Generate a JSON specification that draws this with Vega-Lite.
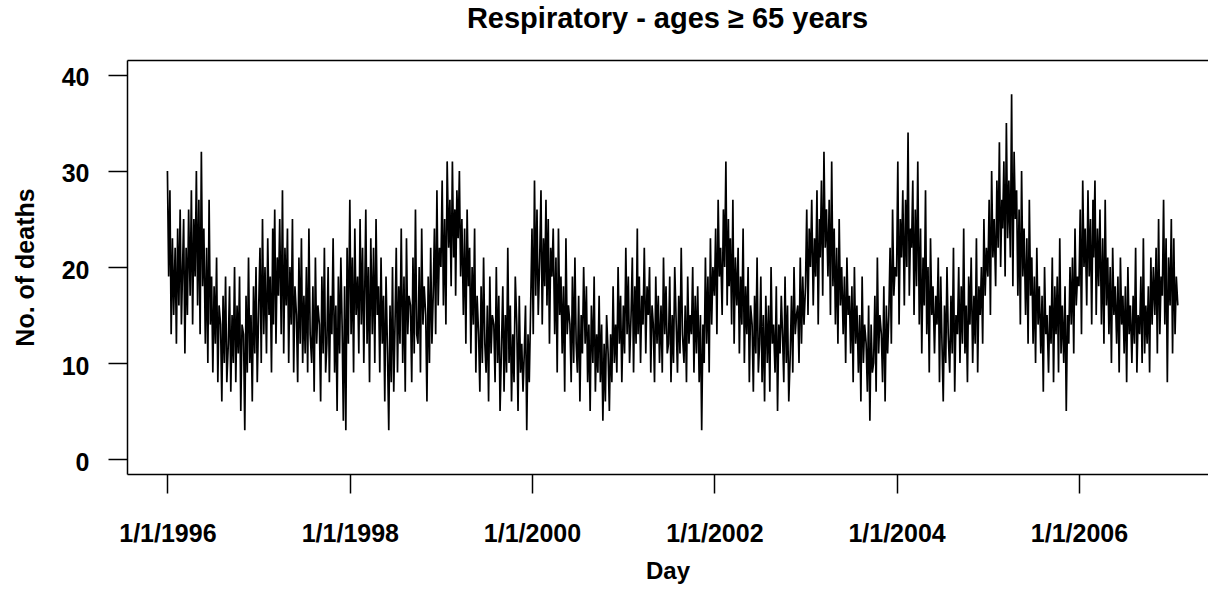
{
"$schema":"https://vega.github.io/schema/vega-lite/v6.json",
"width":1081,"height":414,
"autosize":{"type":"none"},
"padding":{"left":127,"top":60,"right":0,"bottom":115},
"background":"white",
"config":{"view":{"stroke":null},"font":"Liberation Sans"},
"title":{"text":"Respiratory - ages  ≥ 65 years","fontSize":29,"fontWeight":"bold","font":"Liberation Sans","color":"black","anchor":"middle","baseline":"alphabetic","offset":3},
"data":{"values":[
{"d":"1996-01-01","v":30},{"d":"1996-01-06","v":19},{"d":"1996-01-11","v":28},{"d":"1996-01-16","v":13},{"d":"1996-01-21","v":23},{"d":"1996-01-26","v":15},
{"d":"1996-02-01","v":22},{"d":"1996-02-06","v":12},{"d":"1996-02-11","v":24},{"d":"1996-02-16","v":16},{"d":"1996-02-21","v":26},{"d":"1996-02-26","v":14},
{"d":"1996-03-01","v":19},{"d":"1996-03-06","v":25},{"d":"1996-03-11","v":11},{"d":"1996-03-16","v":22},{"d":"1996-03-21","v":15},{"d":"1996-03-26","v":26},
{"d":"1996-04-01","v":17},{"d":"1996-04-06","v":28},{"d":"1996-04-11","v":14},{"d":"1996-04-16","v":25},{"d":"1996-04-21","v":19},{"d":"1996-04-26","v":30},
{"d":"1996-05-01","v":16},{"d":"1996-05-06","v":27},{"d":"1996-05-11","v":13},{"d":"1996-05-16","v":32},{"d":"1996-05-21","v":18},{"d":"1996-05-26","v":24},
{"d":"1996-06-01","v":12},{"d":"1996-06-06","v":22},{"d":"1996-06-11","v":10},{"d":"1996-06-16","v":27},{"d":"1996-06-21","v":14},{"d":"1996-06-26","v":19},
{"d":"1996-07-01","v":9},{"d":"1996-07-06","v":18},{"d":"1996-07-11","v":12},{"d":"1996-07-16","v":21},{"d":"1996-07-21","v":8},{"d":"1996-07-26","v":16},
{"d":"1996-08-01","v":14},{"d":"1996-08-06","v":6},{"d":"1996-08-11","v":17},{"d":"1996-08-16","v":10},{"d":"1996-08-21","v":19},{"d":"1996-08-26","v":8},
{"d":"1996-09-01","v":12},{"d":"1996-09-06","v":18},{"d":"1996-09-11","v":7},{"d":"1996-09-16","v":15},{"d":"1996-09-21","v":10},{"d":"1996-09-26","v":20},
{"d":"1996-10-01","v":8},{"d":"1996-10-06","v":16},{"d":"1996-10-11","v":11},{"d":"1996-10-16","v":19},{"d":"1996-10-21","v":5},{"d":"1996-10-26","v":14},
{"d":"1996-11-01","v":13},{"d":"1996-11-06","v":3},{"d":"1996-11-11","v":17},{"d":"1996-11-16","v":9},{"d":"1996-11-21","v":21},{"d":"1996-11-26","v":10},
{"d":"1996-12-01","v":15},{"d":"1996-12-06","v":6},{"d":"1996-12-11","v":18},{"d":"1996-12-16","v":11},{"d":"1996-12-21","v":20},{"d":"1996-12-26","v":8},
{"d":"1997-01-01","v":16},{"d":"1997-01-06","v":22},{"d":"1997-01-11","v":10},{"d":"1997-01-16","v":25},{"d":"1997-01-21","v":13},{"d":"1997-01-26","v":20},
{"d":"1997-02-01","v":11},{"d":"1997-02-06","v":23},{"d":"1997-02-11","v":15},{"d":"1997-02-16","v":19},{"d":"1997-02-21","v":9},{"d":"1997-02-26","v":24},
{"d":"1997-03-01","v":14},{"d":"1997-03-06","v":26},{"d":"1997-03-11","v":12},{"d":"1997-03-16","v":21},{"d":"1997-03-21","v":17},{"d":"1997-03-26","v":25},
{"d":"1997-04-01","v":13},{"d":"1997-04-06","v":28},{"d":"1997-04-11","v":11},{"d":"1997-04-16","v":22},{"d":"1997-04-21","v":16},{"d":"1997-04-26","v":24},
{"d":"1997-05-01","v":10},{"d":"1997-05-06","v":20},{"d":"1997-05-11","v":14},{"d":"1997-05-16","v":25},{"d":"1997-05-21","v":9},{"d":"1997-05-26","v":18},
{"d":"1997-06-01","v":15},{"d":"1997-06-06","v":8},{"d":"1997-06-11","v":21},{"d":"1997-06-16","v":12},{"d":"1997-06-21","v":23},{"d":"1997-06-26","v":10},
{"d":"1997-07-01","v":17},{"d":"1997-07-06","v":11},{"d":"1997-07-11","v":20},{"d":"1997-07-16","v":9},{"d":"1997-07-21","v":24},{"d":"1997-07-26","v":13},
{"d":"1997-08-01","v":10},{"d":"1997-08-06","v":18},{"d":"1997-08-11","v":7},{"d":"1997-08-16","v":21},{"d":"1997-08-21","v":12},{"d":"1997-08-26","v":16},
{"d":"1997-09-01","v":14},{"d":"1997-09-06","v":6},{"d":"1997-09-11","v":19},{"d":"1997-09-16","v":11},{"d":"1997-09-21","v":22},{"d":"1997-09-26","v":9},
{"d":"1997-10-01","v":12},{"d":"1997-10-06","v":20},{"d":"1997-10-11","v":8},{"d":"1997-10-16","v":17},{"d":"1997-10-21","v":13},{"d":"1997-10-26","v":23},
{"d":"1997-11-01","v":9},{"d":"1997-11-06","v":16},{"d":"1997-11-11","v":5},{"d":"1997-11-16","v":19},{"d":"1997-11-21","v":11},{"d":"1997-11-26","v":21},
{"d":"1997-12-01","v":14},{"d":"1997-12-06","v":4},{"d":"1997-12-11","v":18},{"d":"1997-12-16","v":3},{"d":"1997-12-21","v":22},{"d":"1997-12-26","v":12},
{"d":"1998-01-01","v":27},{"d":"1998-01-06","v":13},{"d":"1998-01-11","v":21},{"d":"1998-01-16","v":9},{"d":"1998-01-21","v":24},{"d":"1998-01-26","v":15},
{"d":"1998-02-01","v":19},{"d":"1998-02-06","v":11},{"d":"1998-02-11","v":25},{"d":"1998-02-16","v":14},{"d":"1998-02-21","v":22},{"d":"1998-02-26","v":10},
{"d":"1998-03-01","v":16},{"d":"1998-03-06","v":26},{"d":"1998-03-11","v":12},{"d":"1998-03-16","v":20},{"d":"1998-03-21","v":8},{"d":"1998-03-26","v":23},
{"d":"1998-04-01","v":13},{"d":"1998-04-06","v":22},{"d":"1998-04-11","v":10},{"d":"1998-04-16","v":25},{"d":"1998-04-21","v":15},{"d":"1998-04-26","v":18},
{"d":"1998-05-01","v":9},{"d":"1998-05-06","v":21},{"d":"1998-05-11","v":12},{"d":"1998-05-16","v":17},{"d":"1998-05-21","v":6},{"d":"1998-05-26","v":19},
{"d":"1998-06-01","v":11},{"d":"1998-06-06","v":3},{"d":"1998-06-11","v":16},{"d":"1998-06-16","v":8},{"d":"1998-06-21","v":20},{"d":"1998-06-26","v":7},
{"d":"1998-07-01","v":14},{"d":"1998-07-06","v":22},{"d":"1998-07-11","v":9},{"d":"1998-07-16","v":18},{"d":"1998-07-21","v":12},{"d":"1998-07-26","v":24},
{"d":"1998-08-01","v":10},{"d":"1998-08-06","v":19},{"d":"1998-08-11","v":7},{"d":"1998-08-16","v":23},{"d":"1998-08-21","v":13},{"d":"1998-08-26","v":17},
{"d":"1998-09-01","v":16},{"d":"1998-09-06","v":8},{"d":"1998-09-11","v":21},{"d":"1998-09-16","v":11},{"d":"1998-09-21","v":26},{"d":"1998-09-26","v":13},
{"d":"1998-10-01","v":12},{"d":"1998-10-06","v":20},{"d":"1998-10-11","v":9},{"d":"1998-10-16","v":24},{"d":"1998-10-21","v":14},{"d":"1998-10-26","v":18},
{"d":"1998-11-01","v":15},{"d":"1998-11-06","v":6},{"d":"1998-11-11","v":19},{"d":"1998-11-16","v":10},{"d":"1998-11-21","v":22},{"d":"1998-11-26","v":12},
{"d":"1998-12-01","v":17},{"d":"1998-12-06","v":24},{"d":"1998-12-11","v":13},{"d":"1998-12-16","v":28},{"d":"1998-12-21","v":16},{"d":"1998-12-26","v":22},
{"d":"1999-01-01","v":20},{"d":"1999-01-06","v":29},{"d":"1999-01-11","v":16},{"d":"1999-01-16","v":25},{"d":"1999-01-21","v":14},{"d":"1999-01-26","v":31},
{"d":"1999-02-01","v":22},{"d":"1999-02-06","v":27},{"d":"1999-02-11","v":18},{"d":"1999-02-16","v":31},{"d":"1999-02-21","v":21},{"d":"1999-02-26","v":26},
{"d":"1999-03-01","v":17},{"d":"1999-03-06","v":28},{"d":"1999-03-11","v":23},{"d":"1999-03-16","v":30},{"d":"1999-03-21","v":19},{"d":"1999-03-26","v":25},
{"d":"1999-04-01","v":15},{"d":"1999-04-06","v":24},{"d":"1999-04-11","v":12},{"d":"1999-04-16","v":26},{"d":"1999-04-21","v":18},{"d":"1999-04-26","v":22},
{"d":"1999-05-01","v":11},{"d":"1999-05-06","v":20},{"d":"1999-05-11","v":14},{"d":"1999-05-16","v":24},{"d":"1999-05-21","v":9},{"d":"1999-05-26","v":17},
{"d":"1999-06-01","v":13},{"d":"1999-06-06","v":7},{"d":"1999-06-11","v":18},{"d":"1999-06-16","v":10},{"d":"1999-06-21","v":21},{"d":"1999-06-26","v":12},
{"d":"1999-07-01","v":9},{"d":"1999-07-06","v":16},{"d":"1999-07-11","v":6},{"d":"1999-07-16","v":19},{"d":"1999-07-21","v":11},{"d":"1999-07-26","v":15},
{"d":"1999-08-01","v":14},{"d":"1999-08-06","v":8},{"d":"1999-08-11","v":20},{"d":"1999-08-16","v":10},{"d":"1999-08-21","v":17},{"d":"1999-08-26","v":5},
{"d":"1999-09-01","v":12},{"d":"1999-09-06","v":18},{"d":"1999-09-11","v":7},{"d":"1999-09-16","v":15},{"d":"1999-09-21","v":9},{"d":"1999-09-26","v":22},
{"d":"1999-10-01","v":10},{"d":"1999-10-06","v":16},{"d":"1999-10-11","v":6},{"d":"1999-10-16","v":13},{"d":"1999-10-21","v":8},{"d":"1999-10-26","v":19},
{"d":"1999-11-01","v":14},{"d":"1999-11-06","v":5},{"d":"1999-11-11","v":17},{"d":"1999-11-16","v":9},{"d":"1999-11-21","v":12},{"d":"1999-11-26","v":7},
{"d":"1999-12-01","v":11},{"d":"1999-12-06","v":16},{"d":"1999-12-11","v":3},{"d":"1999-12-16","v":13},{"d":"1999-12-21","v":8},{"d":"1999-12-26","v":15},
{"d":"2000-01-01","v":24},{"d":"2000-01-06","v":13},{"d":"2000-01-11","v":29},{"d":"2000-01-16","v":17},{"d":"2000-01-21","v":26},{"d":"2000-01-26","v":15},
{"d":"2000-02-01","v":21},{"d":"2000-02-06","v":28},{"d":"2000-02-11","v":14},{"d":"2000-02-16","v":23},{"d":"2000-02-21","v":18},{"d":"2000-02-26","v":27},
{"d":"2000-03-01","v":16},{"d":"2000-03-06","v":25},{"d":"2000-03-11","v":12},{"d":"2000-03-16","v":22},{"d":"2000-03-21","v":19},{"d":"2000-03-26","v":24},
{"d":"2000-04-01","v":13},{"d":"2000-04-06","v":21},{"d":"2000-04-11","v":9},{"d":"2000-04-16","v":24},{"d":"2000-04-21","v":15},{"d":"2000-04-26","v":19},
{"d":"2000-05-01","v":11},{"d":"2000-05-06","v":18},{"d":"2000-05-11","v":7},{"d":"2000-05-16","v":23},{"d":"2000-05-21","v":13},{"d":"2000-05-26","v":16},
{"d":"2000-06-01","v":14},{"d":"2000-06-06","v":8},{"d":"2000-06-11","v":19},{"d":"2000-06-16","v":10},{"d":"2000-06-21","v":21},{"d":"2000-06-26","v":12},
{"d":"2000-07-01","v":9},{"d":"2000-07-06","v":17},{"d":"2000-07-11","v":6},{"d":"2000-07-16","v":15},{"d":"2000-07-21","v":11},{"d":"2000-07-26","v":20},
{"d":"2000-08-01","v":12},{"d":"2000-08-06","v":18},{"d":"2000-08-11","v":8},{"d":"2000-08-16","v":14},{"d":"2000-08-21","v":5},{"d":"2000-08-26","v":16},
{"d":"2000-09-01","v":10},{"d":"2000-09-06","v":19},{"d":"2000-09-11","v":7},{"d":"2000-09-16","v":13},{"d":"2000-09-21","v":9},{"d":"2000-09-26","v":17},
{"d":"2000-10-01","v":8},{"d":"2000-10-06","v":14},{"d":"2000-10-11","v":4},{"d":"2000-10-16","v":12},{"d":"2000-10-21","v":6},{"d":"2000-10-26","v":15},
{"d":"2000-11-01","v":11},{"d":"2000-11-06","v":5},{"d":"2000-11-11","v":13},{"d":"2000-11-16","v":8},{"d":"2000-11-21","v":18},{"d":"2000-11-26","v":10},
{"d":"2000-12-01","v":14},{"d":"2000-12-06","v":9},{"d":"2000-12-11","v":20},{"d":"2000-12-16","v":12},{"d":"2000-12-21","v":17},{"d":"2000-12-26","v":8},
{"d":"2001-01-01","v":16},{"d":"2001-01-06","v":11},{"d":"2001-01-11","v":22},{"d":"2001-01-16","v":13},{"d":"2001-01-21","v":19},{"d":"2001-01-26","v":10},
{"d":"2001-02-01","v":15},{"d":"2001-02-06","v":21},{"d":"2001-02-11","v":9},{"d":"2001-02-16","v":18},{"d":"2001-02-21","v":12},{"d":"2001-02-26","v":24},
{"d":"2001-03-01","v":13},{"d":"2001-03-06","v":19},{"d":"2001-03-11","v":10},{"d":"2001-03-16","v":17},{"d":"2001-03-21","v":14},{"d":"2001-03-26","v":22},
{"d":"2001-04-01","v":11},{"d":"2001-04-06","v":18},{"d":"2001-04-11","v":15},{"d":"2001-04-16","v":20},{"d":"2001-04-21","v":9},{"d":"2001-04-26","v":16},
{"d":"2001-05-01","v":14},{"d":"2001-05-06","v":8},{"d":"2001-05-11","v":19},{"d":"2001-05-16","v":12},{"d":"2001-05-21","v":17},{"d":"2001-05-26","v":10},
{"d":"2001-06-01","v":16},{"d":"2001-06-06","v":9},{"d":"2001-06-11","v":21},{"d":"2001-06-16","v":13},{"d":"2001-06-21","v":18},{"d":"2001-06-26","v":11},
{"d":"2001-07-01","v":12},{"d":"2001-07-06","v":19},{"d":"2001-07-11","v":8},{"d":"2001-07-16","v":15},{"d":"2001-07-21","v":10},{"d":"2001-07-26","v":20},
{"d":"2001-08-01","v":14},{"d":"2001-08-06","v":9},{"d":"2001-08-11","v":17},{"d":"2001-08-16","v":11},{"d":"2001-08-21","v":22},{"d":"2001-08-26","v":13},
{"d":"2001-09-01","v":10},{"d":"2001-09-06","v":16},{"d":"2001-09-11","v":8},{"d":"2001-09-16","v":19},{"d":"2001-09-21","v":12},{"d":"2001-09-26","v":15},
{"d":"2001-10-01","v":13},{"d":"2001-10-06","v":20},{"d":"2001-10-11","v":9},{"d":"2001-10-16","v":17},{"d":"2001-10-21","v":11},{"d":"2001-10-26","v":18},
{"d":"2001-11-01","v":8},{"d":"2001-11-06","v":15},{"d":"2001-11-11","v":3},{"d":"2001-11-16","v":14},{"d":"2001-11-21","v":10},{"d":"2001-11-26","v":21},
{"d":"2001-12-01","v":12},{"d":"2001-12-06","v":19},{"d":"2001-12-11","v":9},{"d":"2001-12-16","v":23},{"d":"2001-12-21","v":14},{"d":"2001-12-26","v":20},
{"d":"2002-01-01","v":17},{"d":"2002-01-06","v":24},{"d":"2002-01-11","v":13},{"d":"2002-01-16","v":27},{"d":"2002-01-21","v":19},{"d":"2002-01-26","v":22},
{"d":"2002-02-01","v":15},{"d":"2002-02-06","v":26},{"d":"2002-02-11","v":20},{"d":"2002-02-16","v":31},{"d":"2002-02-21","v":16},{"d":"2002-02-26","v":25},
{"d":"2002-03-01","v":18},{"d":"2002-03-06","v":23},{"d":"2002-03-11","v":14},{"d":"2002-03-16","v":27},{"d":"2002-03-21","v":12},{"d":"2002-03-26","v":21},
{"d":"2002-04-01","v":16},{"d":"2002-04-06","v":22},{"d":"2002-04-11","v":11},{"d":"2002-04-16","v":19},{"d":"2002-04-21","v":14},{"d":"2002-04-26","v":24},
{"d":"2002-05-01","v":10},{"d":"2002-05-06","v":18},{"d":"2002-05-11","v":13},{"d":"2002-05-16","v":20},{"d":"2002-05-21","v":8},{"d":"2002-05-26","v":16},
{"d":"2002-06-01","v":14},{"d":"2002-06-06","v":7},{"d":"2002-06-11","v":17},{"d":"2002-06-16","v":11},{"d":"2002-06-21","v":21},{"d":"2002-06-26","v":9},
{"d":"2002-07-01","v":12},{"d":"2002-07-06","v":19},{"d":"2002-07-11","v":8},{"d":"2002-07-16","v":15},{"d":"2002-07-21","v":6},{"d":"2002-07-26","v":17},
{"d":"2002-08-01","v":10},{"d":"2002-08-06","v":16},{"d":"2002-08-11","v":7},{"d":"2002-08-16","v":20},{"d":"2002-08-21","v":12},{"d":"2002-08-26","v":14},
{"d":"2002-09-01","v":9},{"d":"2002-09-06","v":18},{"d":"2002-09-11","v":5},{"d":"2002-09-16","v":14},{"d":"2002-09-21","v":11},{"d":"2002-09-26","v":17},
{"d":"2002-10-01","v":13},{"d":"2002-10-06","v":8},{"d":"2002-10-11","v":19},{"d":"2002-10-16","v":10},{"d":"2002-10-21","v":16},{"d":"2002-10-26","v":6},
{"d":"2002-11-01","v":11},{"d":"2002-11-06","v":17},{"d":"2002-11-11","v":9},{"d":"2002-11-16","v":20},{"d":"2002-11-21","v":13},{"d":"2002-11-26","v":15},
{"d":"2002-12-01","v":16},{"d":"2002-12-06","v":10},{"d":"2002-12-11","v":21},{"d":"2002-12-16","v":12},{"d":"2002-12-21","v":19},{"d":"2002-12-26","v":14},
{"d":"2003-01-01","v":18},{"d":"2003-01-06","v":26},{"d":"2003-01-11","v":15},{"d":"2003-01-16","v":24},{"d":"2003-01-21","v":20},{"d":"2003-01-26","v":27},
{"d":"2003-02-01","v":16},{"d":"2003-02-06","v":23},{"d":"2003-02-11","v":19},{"d":"2003-02-16","v":28},{"d":"2003-02-21","v":14},{"d":"2003-02-26","v":25},
{"d":"2003-03-01","v":21},{"d":"2003-03-06","v":29},{"d":"2003-03-11","v":17},{"d":"2003-03-16","v":32},{"d":"2003-03-21","v":22},{"d":"2003-03-26","v":26},
{"d":"2003-04-01","v":19},{"d":"2003-04-06","v":27},{"d":"2003-04-11","v":15},{"d":"2003-04-16","v":31},{"d":"2003-04-21","v":18},{"d":"2003-04-26","v":24},
{"d":"2003-05-01","v":14},{"d":"2003-05-06","v":22},{"d":"2003-05-11","v":12},{"d":"2003-05-16","v":25},{"d":"2003-05-21","v":16},{"d":"2003-05-26","v":20},
{"d":"2003-06-01","v":13},{"d":"2003-06-06","v":19},{"d":"2003-06-11","v":10},{"d":"2003-06-16","v":21},{"d":"2003-06-21","v":15},{"d":"2003-06-26","v":17},
{"d":"2003-07-01","v":11},{"d":"2003-07-06","v":18},{"d":"2003-07-11","v":8},{"d":"2003-07-16","v":20},{"d":"2003-07-21","v":12},{"d":"2003-07-26","v":16},
{"d":"2003-08-01","v":9},{"d":"2003-08-06","v":15},{"d":"2003-08-11","v":6},{"d":"2003-08-16","v":19},{"d":"2003-08-21","v":10},{"d":"2003-08-26","v":14},
{"d":"2003-09-01","v":12},{"d":"2003-09-06","v":7},{"d":"2003-09-11","v":16},{"d":"2003-09-16","v":4},{"d":"2003-09-21","v":14},{"d":"2003-09-26","v":9},
{"d":"2003-10-01","v":10},{"d":"2003-10-06","v":17},{"d":"2003-10-11","v":7},{"d":"2003-10-16","v":21},{"d":"2003-10-21","v":11},{"d":"2003-10-26","v":15},
{"d":"2003-11-01","v":13},{"d":"2003-11-06","v":8},{"d":"2003-11-11","v":18},{"d":"2003-11-16","v":6},{"d":"2003-11-21","v":16},{"d":"2003-11-26","v":11},
{"d":"2003-12-01","v":15},{"d":"2003-12-06","v":22},{"d":"2003-12-11","v":12},{"d":"2003-12-16","v":26},{"d":"2003-12-21","v":17},{"d":"2003-12-26","v":20},
{"d":"2004-01-01","v":19},{"d":"2004-01-06","v":31},{"d":"2004-01-11","v":14},{"d":"2004-01-16","v":25},{"d":"2004-01-21","v":21},{"d":"2004-01-26","v":28},
{"d":"2004-02-01","v":16},{"d":"2004-02-06","v":27},{"d":"2004-02-11","v":20},{"d":"2004-02-16","v":34},{"d":"2004-02-21","v":17},{"d":"2004-02-26","v":24},
{"d":"2004-03-01","v":22},{"d":"2004-03-06","v":29},{"d":"2004-03-11","v":15},{"d":"2004-03-16","v":26},{"d":"2004-03-21","v":18},{"d":"2004-03-26","v":31},
{"d":"2004-04-01","v":14},{"d":"2004-04-06","v":24},{"d":"2004-04-11","v":11},{"d":"2004-04-16","v":21},{"d":"2004-04-21","v":16},{"d":"2004-04-26","v":28},
{"d":"2004-05-01","v":13},{"d":"2004-05-06","v":20},{"d":"2004-05-11","v":9},{"d":"2004-05-16","v":23},{"d":"2004-05-21","v":15},{"d":"2004-05-26","v":18},
{"d":"2004-06-01","v":11},{"d":"2004-06-06","v":17},{"d":"2004-06-11","v":14},{"d":"2004-06-16","v":21},{"d":"2004-06-21","v":8},{"d":"2004-06-26","v":19},
{"d":"2004-07-01","v":12},{"d":"2004-07-06","v":6},{"d":"2004-07-11","v":16},{"d":"2004-07-16","v":10},{"d":"2004-07-21","v":20},{"d":"2004-07-26","v":13},
{"d":"2004-08-01","v":9},{"d":"2004-08-06","v":17},{"d":"2004-08-11","v":11},{"d":"2004-08-16","v":22},{"d":"2004-08-21","v":7},{"d":"2004-08-26","v":15},
{"d":"2004-09-01","v":13},{"d":"2004-09-06","v":20},{"d":"2004-09-11","v":10},{"d":"2004-09-16","v":18},{"d":"2004-09-21","v":12},{"d":"2004-09-26","v":24},
{"d":"2004-10-01","v":11},{"d":"2004-10-06","v":16},{"d":"2004-10-11","v":8},{"d":"2004-10-16","v":19},{"d":"2004-10-21","v":14},{"d":"2004-10-26","v":21},
{"d":"2004-11-01","v":10},{"d":"2004-11-06","v":17},{"d":"2004-11-11","v":12},{"d":"2004-11-16","v":23},{"d":"2004-11-21","v":9},{"d":"2004-11-26","v":18},
{"d":"2004-12-01","v":15},{"d":"2004-12-06","v":20},{"d":"2004-12-11","v":12},{"d":"2004-12-16","v":25},{"d":"2004-12-21","v":17},{"d":"2004-12-26","v":22},
{"d":"2005-01-01","v":19},{"d":"2005-01-06","v":27},{"d":"2005-01-11","v":15},{"d":"2005-01-16","v":30},{"d":"2005-01-21","v":21},{"d":"2005-01-26","v":25},
{"d":"2005-02-01","v":18},{"d":"2005-02-06","v":29},{"d":"2005-02-11","v":22},{"d":"2005-02-16","v":33},{"d":"2005-02-21","v":20},{"d":"2005-02-26","v":27},
{"d":"2005-03-01","v":24},{"d":"2005-03-06","v":31},{"d":"2005-03-11","v":19},{"d":"2005-03-16","v":35},{"d":"2005-03-21","v":23},{"d":"2005-03-26","v":29},
{"d":"2005-04-01","v":21},{"d":"2005-04-06","v":38},{"d":"2005-04-11","v":18},{"d":"2005-04-16","v":32},{"d":"2005-04-21","v":25},{"d":"2005-04-26","v":28},
{"d":"2005-05-01","v":17},{"d":"2005-05-06","v":26},{"d":"2005-05-11","v":14},{"d":"2005-05-16","v":30},{"d":"2005-05-21","v":19},{"d":"2005-05-26","v":24},
{"d":"2005-06-01","v":15},{"d":"2005-06-06","v":23},{"d":"2005-06-11","v":12},{"d":"2005-06-16","v":27},{"d":"2005-06-21","v":17},{"d":"2005-06-26","v":21},
{"d":"2005-07-01","v":12},{"d":"2005-07-06","v":19},{"d":"2005-07-11","v":10},{"d":"2005-07-16","v":22},{"d":"2005-07-21","v":14},{"d":"2005-07-26","v":18},
{"d":"2005-08-01","v":11},{"d":"2005-08-06","v":17},{"d":"2005-08-11","v":7},{"d":"2005-08-16","v":20},{"d":"2005-08-21","v":13},{"d":"2005-08-26","v":15},
{"d":"2005-09-01","v":9},{"d":"2005-09-06","v":16},{"d":"2005-09-11","v":12},{"d":"2005-09-16","v":21},{"d":"2005-09-21","v":8},{"d":"2005-09-26","v":18},
{"d":"2005-10-01","v":13},{"d":"2005-10-06","v":19},{"d":"2005-10-11","v":9},{"d":"2005-10-16","v":23},{"d":"2005-10-21","v":11},{"d":"2005-10-26","v":16},
{"d":"2005-11-01","v":10},{"d":"2005-11-06","v":18},{"d":"2005-11-11","v":5},{"d":"2005-11-16","v":15},{"d":"2005-11-21","v":12},{"d":"2005-11-26","v":20},
{"d":"2005-12-01","v":14},{"d":"2005-12-06","v":21},{"d":"2005-12-11","v":11},{"d":"2005-12-16","v":24},{"d":"2005-12-21","v":16},{"d":"2005-12-26","v":19},
{"d":"2006-01-01","v":18},{"d":"2006-01-06","v":26},{"d":"2006-01-11","v":13},{"d":"2006-01-16","v":29},{"d":"2006-01-21","v":20},{"d":"2006-01-26","v":24},
{"d":"2006-02-01","v":16},{"d":"2006-02-06","v":28},{"d":"2006-02-11","v":19},{"d":"2006-02-16","v":25},{"d":"2006-02-21","v":14},{"d":"2006-02-26","v":27},
{"d":"2006-03-01","v":21},{"d":"2006-03-06","v":29},{"d":"2006-03-11","v":15},{"d":"2006-03-16","v":24},{"d":"2006-03-21","v":18},{"d":"2006-03-26","v":26},
{"d":"2006-04-01","v":14},{"d":"2006-04-06","v":23},{"d":"2006-04-11","v":12},{"d":"2006-04-16","v":27},{"d":"2006-04-21","v":16},{"d":"2006-04-26","v":21},
{"d":"2006-05-01","v":13},{"d":"2006-05-06","v":20},{"d":"2006-05-11","v":10},{"d":"2006-05-16","v":22},{"d":"2006-05-21","v":15},{"d":"2006-05-26","v":18},
{"d":"2006-06-01","v":12},{"d":"2006-06-06","v":19},{"d":"2006-06-11","v":9},{"d":"2006-06-16","v":21},{"d":"2006-06-21","v":14},{"d":"2006-06-26","v":17},
{"d":"2006-07-01","v":11},{"d":"2006-07-06","v":18},{"d":"2006-07-11","v":8},{"d":"2006-07-16","v":20},{"d":"2006-07-21","v":13},{"d":"2006-07-26","v":16},
{"d":"2006-08-01","v":10},{"d":"2006-08-06","v":17},{"d":"2006-08-11","v":12},{"d":"2006-08-16","v":22},{"d":"2006-08-21","v":9},{"d":"2006-08-26","v":15},
{"d":"2006-09-01","v":13},{"d":"2006-09-06","v":19},{"d":"2006-09-11","v":10},{"d":"2006-09-16","v":23},{"d":"2006-09-21","v":11},{"d":"2006-09-26","v":16},
{"d":"2006-10-01","v":12},{"d":"2006-10-06","v":18},{"d":"2006-10-11","v":9},{"d":"2006-10-16","v":21},{"d":"2006-10-21","v":14},{"d":"2006-10-26","v":20},
{"d":"2006-11-01","v":15},{"d":"2006-11-06","v":22},{"d":"2006-11-11","v":11},{"d":"2006-11-16","v":25},{"d":"2006-11-21","v":13},{"d":"2006-11-26","v":19},
{"d":"2006-12-01","v":17},{"d":"2006-12-06","v":27},{"d":"2006-12-11","v":14},{"d":"2006-12-16","v":23},{"d":"2006-12-21","v":8},{"d":"2006-12-26","v":21},
{"d":"2007-01-01","v":16},{"d":"2007-01-06","v":25},{"d":"2007-01-11","v":11},{"d":"2007-01-16","v":23},{"d":"2007-01-21","v":13},{"d":"2007-01-26","v":19},
{"d":"2007-02-01","v":16}
]},
"encoding":{
"y":{"field":"v","type":"quantitative","scale":{"domain":[-1.56,41.56],"nice":false,"zero":false},
"axis":{"values":[0,10,20,30,40],"grid":false,"domainColor":"black","domainWidth":1.5,"tickColor":"black","tickWidth":1.5,"tickSize":19,"labelPadding":19,"labelFont":"Liberation Sans","labelFontSize":25,"labelFontWeight":"bold","labelColor":"black","labelOffset":3,"title":"No. of deaths","titleFont":"Liberation Sans","titleFontSize":25,"titleFontWeight":"bold","titleColor":"black","titlePadding":23}}
},
"layer":[
{"mark":{"type":"line","color":"black","strokeWidth":1.7,"clip":true},
"encoding":{"x":{"field":"d","type":"temporal","scale":{"domain":[{"year":1995,"month":7,"date":23},{"year":2007,"month":6,"date":2}]},
"axis":{"values":[{"year":1996,"month":1,"date":1},{"year":1998,"month":1,"date":1},{"year":2000,"month":1,"date":1},{"year":2002,"month":1,"date":1},{"year":2004,"month":1,"date":1},{"year":2006,"month":1,"date":1}],"format":"%-m/%-d/%Y","grid":false,"domainColor":"black","domainWidth":1.5,"tickColor":"black","tickWidth":1.5,"tickSize":19,"labelPadding":28,"labelFont":"Liberation Sans","labelFontSize":25,"labelFontWeight":"bold","labelColor":"black","labelFlush":false,"labelOverlap":false,"title":"Day","titleFont":"Liberation Sans","titleFontSize":24,"titleFontWeight":"bold","titleColor":"black","titlePadding":13}}}},
{"mark":{"type":"line","opacity":0},
"encoding":{"x":{"field":"d","type":"temporal","axis":{"orient":"top","labels":false,"ticks":false,"domain":true,"domainColor":"black","domainWidth":1.5,"grid":false,"title":null}}}}
],
"resolve":{"axis":{"x":"independent"}}
}
